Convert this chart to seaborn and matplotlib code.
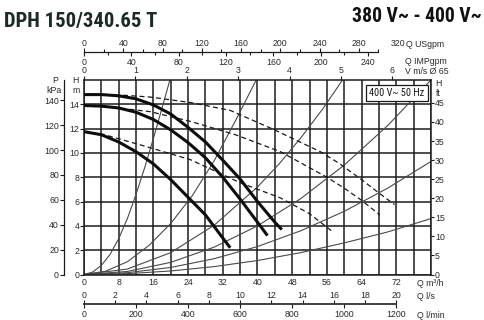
import matplotlib
matplotlib.use('Agg')
import matplotlib.pyplot as plt
import pandas as pd
import seaborn as sns

# ---------------- data (Q in m3/h, H in m) ----------------
pump_q_1 = [0, 4, 8, 12, 16, 20, 24, 28, 32, 36, 40, 44, 45.6]
pump_h_1 = [14.8, 14.8, 14.7, 14.45, 13.95, 13.2, 12.1, 10.9, 9.4, 7.85, 6.0, 4.3, 3.7]
pump_q_2 = [0, 4, 8, 12, 16, 20, 24, 28, 32, 36, 40, 42.3]
pump_h_2 = [13.9, 13.85, 13.7, 13.35, 12.75, 11.9, 10.85, 9.6, 8.0, 6.2, 4.3, 3.2]
pump_q_3 = [0, 4, 8, 12, 16, 20, 24, 28, 32, 33.7]
pump_h_3 = [11.75, 11.5, 10.9, 10.1, 9.1, 7.8, 6.35, 4.9, 3.0, 2.2]

dash_q_1 = [9.0, 15.2, 24.5, 33.7, 43.6, 54.5, 59.0, 64.0, 68.0, 71.6]
dash_h_1 = [14.75, 14.6, 14.15, 13.5, 11.95, 10.1, 9.1, 7.8, 6.7, 5.75]
dash_q_2 = [6.7, 15.2, 24.5, 34.9, 45.3, 56.0, 60.0, 64.0, 68.2]
dash_h_2 = [13.75, 13.4, 12.6, 11.5, 10.1, 8.0, 7.1, 6.1, 4.9]
dash_q_3 = [3.7, 14.1, 24.5, 36.0, 45.3, 52.0, 57.4]
dash_h_3 = [11.6, 10.55, 9.45, 7.55, 6.3, 5.0, 3.5]

sys_q_1 = [0, 2, 4, 6, 8, 10, 12, 14, 16, 18, 19.8]
sys_h_1 = [0, 0.2, 0.75, 1.65, 2.95, 4.6, 6.6, 8.8, 11.2, 13.7, 16.0]
sys_q_2 = [0, 5, 10, 15, 20, 25, 30, 35, 39.7]
sys_h_2 = [0, 0.27, 1.05, 2.4, 4.2, 6.5, 9.35, 12.7, 16.0]
sys_q_3 = [0, 10, 20, 30, 40, 45, 50, 55, 59.6]
sys_h_3 = [0, 0.45, 1.8, 4.05, 7.2, 9.1, 11.25, 13.6, 16.0]
sys_q_4 = [0, 10, 20, 30, 40, 50, 60, 70, 80]
sys_h_4 = [0, 0.25, 1.0, 2.25, 4.0, 6.25, 9.0, 12.25, 16.0]
sys_q_5 = [0, 10, 20, 30, 40, 50, 60, 70, 80]
sys_h_5 = [0, 0.15, 0.58, 1.3, 2.3, 3.6, 5.2, 7.1, 9.3]
sys_q_6 = [0, 10, 20, 30, 40, 50, 60, 70, 80]
sys_h_6 = [0, 0.07, 0.29, 0.65, 1.15, 1.8, 2.6, 3.5, 4.6]

# tick values of the scales
q_m3h_ticks = [0, 8, 16, 24, 32, 40, 48, 56, 64, 72]
q_grid = [0, 4, 8, 12, 16, 20, 24, 28, 32, 36, 40, 44, 48, 52, 56, 60, 64, 68, 72, 76, 80]
h_m_ticks = [0, 2, 4, 6, 8, 10, 12, 14]
p_kpa_ticks = [0, 20, 40, 60, 80, 100, 120, 140]
h_ft_ticks = [0, 5, 10, 15, 20, 25, 30, 35, 40, 45]
q_us_ticks = [0, 40, 80, 120, 160, 200, 240, 280, 320]
q_us_minor = [20, 60, 100, 140, 180, 220, 260, 300]
q_imp_ticks = [0, 40, 80, 120, 160, 200, 240]
q_imp_minor = [20, 60, 100, 140, 180, 220]
v_ticks = [0, 1, 2, 3, 4, 5, 6]
q_ls_ticks = [0, 2, 4, 6, 8, 10, 12, 14, 16, 18, 20]
q_lmin_ticks = [0, 200, 400, 600, 800, 1000, 1200]

# scale relations as printed on the chart
US_PER_M3H = 4.42
IMP_PER_M3H = 3.667
M3H_PER_MS = 11.85
M3H_PER_LS = 3.6
M3H_PER_LMIN = 0.06
KPA_TOP = 156.3
FT_TOP = 51.0

# ---------------- figure ----------------
sns.set_style('white')
plt.rcParams['font.family'] = ['Liberation Sans', 'DejaVu Sans']
NARROW = ['Roboto Condensed', 'Liberation Sans Narrow', 'Liberation Sans', 'DejaVu Sans']
TXT = '#2a2a2a'
LS = 6.3

W, H = 485, 320
def fx(x):
    return x / W
def fy(y):
    return 1 - y / H

X0, X1, Y0, Y1 = 84, 431, 274.5, 80
fig = plt.figure(figsize=(4.85, 3.2), dpi=100)
fig.patch.set_facecolor('white')
ax = fig.add_axes([fx(X0), fy(Y0), (X1 - X0) / W, (Y0 - Y1) / H])

def frame(qs, hs, name):
    return pd.DataFrame({'Q': qs, 'H': hs, 'curve': name})

df_sys = pd.concat([frame(sys_q_1, sys_h_1, 's1'), frame(sys_q_2, sys_h_2, 's2'),
                    frame(sys_q_3, sys_h_3, 's3'), frame(sys_q_4, sys_h_4, 's4'),
                    frame(sys_q_5, sys_h_5, 's5'), frame(sys_q_6, sys_h_6, 's6')])
df_dash = pd.concat([frame(dash_q_1, dash_h_1, 'd1'), frame(dash_q_2, dash_h_2, 'd2'),
                     frame(dash_q_3, dash_h_3, 'd3')])
df_pump = pd.concat([frame(pump_q_1, pump_h_1, 'p1'), frame(pump_q_2, pump_h_2, 'p2'),
                     frame(pump_q_3, pump_h_3, 'p3')])

sns.lineplot(data=df_sys, x='Q', y='H', units='curve', estimator=None, color='#4a4a4a',
             linewidth=0.8, ax=ax, legend=False, zorder=2)
sns.lineplot(data=df_dash, x='Q', y='H', units='curve', estimator=None, color='#1a1a1a',
             linewidth=0.9, linestyle=(0, (4, 2.6)), ax=ax, legend=False, zorder=3)
sns.lineplot(data=df_pump, x='Q', y='H', units='curve', estimator=None, color='#0d0d0d',
             linewidth=2.2, ax=ax, legend=False, zorder=4, solid_capstyle='butt')

ax.set_xlim(0, 80)
ax.set_ylim(0, 16)
ax.set_xlabel('')
ax.set_ylabel('')
ax.set_xticks(q_m3h_ticks)
ax.set_xticks(q_grid, minor=True)
ax.set_yticks(h_m_ticks)
ax.set_axisbelow(True)
ax.grid(True, which='both', color='#1c1c1c', linewidth=1.1)
ax.tick_params(axis='x', which='both', length=0, pad=2.6, labelsize=LS, labelcolor=TXT)
ax.tick_params(axis='y', which='major', left=True, length=2.6, width=0.8, pad=0.6,
               labelsize=LS, labelcolor=TXT, color='#1c1c1c', direction='out')
for s in ax.spines.values():
    s.set_color('#1c1c1c')
    s.set_linewidth(1.1)

# right feet scale
ax_ft = ax.twinx()
ax_ft.set_ylim(0, FT_TOP)
ax_ft.set_yticks(h_ft_ticks)
ax_ft.tick_params(axis='y', right=True, length=2.4, width=0.8, pad=0.4, labelsize=LS,
                  labelcolor=TXT, color='#1c1c1c')
for k in ('left', 'top', 'bottom', 'right'):
    ax_ft.spines[k].set_visible(False)
ax_ft.grid(False)

# left kPa scale
ax_p = ax.twinx()
ax_p.set_ylim(0, KPA_TOP)
ax_p.spines['left'].set_position(('outward', 14.6))
ax_p.yaxis.set_ticks_position('left')
ax_p.yaxis.set_label_position('left')
ax_p.set_yticks(p_kpa_ticks)
for k in ('right', 'top', 'bottom'):
    ax_p.spines[k].set_visible(False)
ax_p.spines['left'].set_visible(True)
ax_p.spines['left'].set_color('#1c1c1c')
ax_p.spines['left'].set_linewidth(0.9)
ax_p.tick_params(axis='y', left=True, right=False, labelleft=True, labelright=False,
                 length=2.8, width=0.8, pad=0.6, labelsize=LS, labelcolor=TXT, color='#1c1c1c')
ax_p.grid(False)

# top scales: US gpm (above) / IMP gpm (below) on a shared line
LOC_TOP = (Y0 - 52.3) / (Y0 - Y1)
sec_us = ax.secondary_xaxis(LOC_TOP, functions=(lambda q: q * US_PER_M3H,
                                                lambda g: g / US_PER_M3H))
sec_us.set_ticks(q_us_ticks)
sec_us.set_ticks(q_us_minor, minor=True)
sec_us.tick_params(which='major', length=3.0, width=0.8, pad=0.2, labelsize=LS,
                   labelcolor=TXT, color='#1c1c1c')
sec_us.tick_params(which='minor', length=2.0, width=0.8, color='#1c1c1c')
sec_us.spines['top'].set_bounds(0, 300)
sec_us.spines['top'].set_linewidth(0.9)
sec_us.spines['top'].set_color('#1c1c1c')
last = sec_us.xaxis.get_major_ticks()[-1]
last.tick1line.set_visible(False)
last.tick2line.set_visible(False)

sec_imp = ax.secondary_xaxis(LOC_TOP, functions=(lambda q: q * IMP_PER_M3H,
                                                 lambda g: g / IMP_PER_M3H))
sec_imp.set_alignment('bottom')
sec_imp.set_ticks(q_imp_ticks)
sec_imp.set_ticks(q_imp_minor, minor=True)
sec_imp.tick_params(which='major', length=3.0, width=0.8, pad=1.0, labelsize=LS,
                    labelcolor=TXT, color='#1c1c1c')
sec_imp.tick_params(which='minor', length=2.0, width=0.8, color='#1c1c1c')
for s in sec_imp.spines.values():
    s.set_visible(False)

# velocity scale on the top frame
sec_v = ax.secondary_xaxis('top', functions=(lambda q: q / M3H_PER_MS,
                                             lambda v: v * M3H_PER_MS))
sec_v.set_ticks(v_ticks)
sec_v.tick_params(which='major', length=3.0, width=0.8, pad=0.3, labelsize=LS,
                  labelcolor=TXT, color='#1c1c1c')
for s in sec_v.spines.values():
    s.set_visible(False)

# bottom scales: l/s (above) / l/min (below) on a shared line
LOC_BOT = (Y0 - 304.3) / (Y0 - Y1)
sec_ls = ax.secondary_xaxis(LOC_BOT, functions=(lambda q: q / M3H_PER_LS,
                                                lambda l: l * M3H_PER_LS))
sec_ls.set_alignment('top')
sec_ls.set_ticks(q_ls_ticks)
sec_ls.tick_params(which='major', length=3.2, width=0.8, pad=0.0, labelsize=LS,
                   labelcolor=TXT, color='#1c1c1c')
sec_ls.spines['top'].set_bounds(0, 20)
sec_ls.spines['top'].set_linewidth(1.3)
sec_ls.spines['top'].set_color('#333333')

sec_lm = ax.secondary_xaxis(LOC_BOT, functions=(lambda q: q / M3H_PER_LMIN,
                                                lambda l: l * M3H_PER_LMIN))
sec_lm.set_alignment('bottom')
sec_lm.set_ticks(q_lmin_ticks)
sec_lm.tick_params(which='major', length=3.2, width=0.8, pad=1.0, labelsize=LS,
                   labelcolor=TXT, color='#1c1c1c')
for s in sec_lm.spines.values():
    s.set_visible(False)

# voltage box
box_t = ax.text((397 - X0) / (X1 - X0), (Y0 - 93) / (Y0 - Y1), '400 V~ 50 Hz',
                transform=ax.transAxes, ha='center', va='center', fontsize=7.5,
                family=NARROW, color='#1a1a1a', zorder=10,
                bbox=dict(boxstyle='square,pad=0.3', fc='white', ec='#1a1a1a', lw=0.9))

# headings and unit captions
title_t = fig.text(fx(4), fy(26.7), 'DPH 150/340.65 T', fontsize=15.5, fontweight='bold',
                   family=NARROW, color='#1d2b24', ha='left', va='baseline')
volt_t = fig.text(fx(352), fy(21.7), '380 V~ - 400 V~', fontsize=15.5, fontweight='bold',
                  family=NARROW, color='#111111', ha='left', va='baseline')

def cap(x, y, s, ha='left'):
    fig.text(fx(x), fy(y), s, fontsize=LS, color=TXT, ha=ha, va='center')

cap(406, 44.5, 'Q USgpm')
cap(405, 61.7, 'Q IMPgpm')
cap(405, 71.0, 'V m/s Ø 65')
cap(55, 80.5, 'P', ha='center')
cap(54, 90.5, 'kPa', ha='center')
cap(75, 80.5, 'H', ha='center')
cap(76.5, 90.5, 'm', ha='center')
cap(438, 84, 'H', ha='center')
cap(438, 94, 'ft', ha='center')
cap(417, 283.5, 'Q m³/h')
cap(417, 296.7, 'Q l/s')
cap(417, 315, 'Q l/min')

# fit the headings and the box label to the widths they take in the reference
fig.canvas.draw()
rend = fig.canvas.get_renderer()
for t, target in ((title_t, 153.0), (volt_t, 130.0), (box_t, 55.0)):
    w = t.get_window_extent(rend).width
    t.set_fontsize(t.get_fontsize() * target / w)

fig.savefig('out.png', dpi=100, facecolor='white')
